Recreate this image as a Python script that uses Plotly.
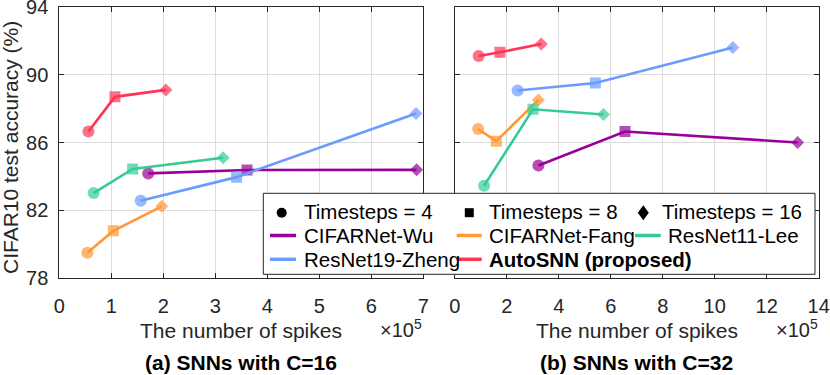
import plotly.graph_objects as go

W, H = 830, 375
FONT = "Liberation Sans, Arial, Helvetica, sans-serif"
INK = "#262626"

methods = ["CIFARNet-Wu", "CIFARNet-Fang", "ResNet11-Lee", "ResNet19-Zheng", "AutoSNN (proposed)"]
colors = ["#990099", "#FF9933", "#33CC99", "#6A9BFF", "#FF3352"]
timestep_labels = ["Timesteps = 4", "Timesteps = 8", "Timesteps = 16"]
symbols = ["circle", "square", "diamond"]

# C=16, spikes in units of 1e5
c16_x = {
    "CIFARNet-Wu": [1.71, 3.61, 6.87],
    "CIFARNet-Fang": [0.54, 1.04, 1.97],
    "ResNet11-Lee": [0.66, 1.41, 3.15],
    "ResNet19-Zheng": [1.565, 3.41, 6.86],
    "AutoSNN (proposed)": [0.56, 1.07, 2.05],
}
c16_y = {
    "CIFARNet-Wu": [84.18, 84.38, 84.39],
    "CIFARNet-Fang": [79.5, 80.8, 82.24],
    "ResNet11-Lee": [83.02, 84.44, 85.1],
    "ResNet19-Zheng": [82.57, 83.96, 87.71],
    "AutoSNN (proposed)": [86.65, 88.69, 89.1],
}
# C=32
c32_x = {
    "CIFARNet-Wu": [3.22, 6.55, 13.19],
    "CIFARNet-Fang": [0.9, 1.6, 3.22],
    "ResNet11-Lee": [1.13, 3.01, 5.72],
    "ResNet19-Zheng": [2.42, 5.41, 10.7],
    "AutoSNN (proposed)": [0.92, 1.74, 3.33],
}
c32_y = {
    "CIFARNet-Wu": [84.65, 86.65, 86.0],
    "CIFARNet-Fang": [86.79, 86.08, 88.51],
    "ResNet11-Lee": [83.45, 87.96, 87.65],
    "ResNet19-Zheng": [89.06, 89.51, 91.59],
    "AutoSNN (proposed)": [91.1, 91.32, 91.8],
}


def px(x):
    return x / W


def py(y):
    return 1 - y / H


fig = go.Figure()
for xs, ys, xa, ya in [(c16_x, c16_y, "x", "y"), (c32_x, c32_y, "x2", "y2")]:
    for m, c in zip(methods, colors):
        fig.add_trace(go.Scatter(
            x=xs[m], y=ys[m], xaxis=xa, yaxis=ya, mode="lines+markers",
            line=dict(color=c, width=2.6),
            marker=dict(symbol=symbols, size=[12, 11, 10], color=c, line=dict(width=0)),
            showlegend=False, hoverinfo="skip"))

ax_common = dict(showline=True, linecolor=INK, linewidth=1, mirror="ticks", ticks="inside",
                 ticklen=5, tickcolor=INK, showgrid=True, gridcolor="#dcdcdc", gridwidth=1,
                 zeroline=False, ticklabeloverflow="allow", automargin=False,
                 tickfont=dict(family=FONT, size=20, color=INK))

fig.update_layout(
    width=W, height=H, margin=dict(l=0, r=0, t=0, b=0),
    paper_bgcolor="white", plot_bgcolor="white",
    font=dict(family=FONT, color=INK),
    xaxis=dict(domain=[px(59.3), px(423.3)], range=[0, 7], dtick=1, anchor="y",
               ticklabelstandoff=10, **ax_common),
    yaxis=dict(domain=[py(278.3), py(6.7)], range=[78, 94], tick0=78, dtick=4, anchor="x",
               ticklabelstandoff=6, **ax_common),
    xaxis2=dict(domain=[px(454.7), px(818.7)], range=[0, 14], dtick=2, anchor="y2",
                ticklabelstandoff=10, **ax_common),
    yaxis2=dict(domain=[py(278.3), py(6.7)], range=[78, 94], tick0=78, dtick=4, anchor="x2",
                showticklabels=False, **ax_common),
)

ann = []
# axis titles and captions
ann.append(dict(text="CIFAR10 test accuracy (%)", x=px(10), y=py(148), textangle=-90,
                font=dict(size=21)))
for cx, cap in [(241.3, "(a) SNNs with C=16"), (636.7, "(b) SNNs with C=32")]:
    ann.append(dict(text="The number of spikes", x=px(cx), y=py(330), font=dict(size=21)))
    ann.append(dict(text="<b>" + cap + "</b>", x=px(cx), y=py(362.5),
                    font=dict(size=21, color="black")))
for rx in [424.5, 819.5]:
    ann.append(dict(text="×10<sup>5</sup>", x=px(rx), y=py(328), xanchor="right",
                    font=dict(size=20)))

# legend box
shapes = [dict(type="rect", xref="paper", yref="paper", x0=px(263.3), x1=px(815),
               y0=py(274.3), y1=py(193.3), fillcolor="white", line=dict(color=INK, width=1))]

# marker row
r1 = 211.7
mk = [(281.7, 301.7), (469.3, 486.7), (643.3, 660.0)]
for (mx, tx), sym, lab in zip(mk, symbols, timestep_labels):
    if sym == "circle":
        shapes.append(dict(type="circle", xref="paper", yref="paper", x0=px(mx - 5), x1=px(mx + 5),
                           y0=py(r1 + 6), y1=py(r1 - 4), fillcolor="black", line=dict(width=0)))
    elif sym == "square":
        shapes.append(dict(type="rect", xref="paper", yref="paper", x0=px(mx - 4.5), x1=px(mx + 4.5),
                           y0=py(r1 + 5.5), y1=py(r1 - 3.5), fillcolor="black", line=dict(width=0)))
    else:
        cy = r1 + 1
        path = "M {},{} L {},{} L {},{} L {},{} Z".format(
            px(mx), py(cy - 7.5), px(mx + 5.5), py(cy), px(mx), py(cy + 7.5), px(mx - 5.5), py(cy))
        shapes.append(dict(type="path", xref="paper", yref="paper", path=path,
                           fillcolor="black", line=dict(width=0)))
    ann.append(dict(text=lab, x=px(tx), y=py(r1), xanchor="left", font=dict(size=20.5, color="black")))

# line rows
cols = [(270, 296, 301.7), (456.7, 481.7, 486.7), (635, 660.7, 665.7)]
rows = [235.5, 259.3]
for i, (m, c) in enumerate(zip(methods, colors)):
    ry = rows[i // 3]
    x0, x1, tx = cols[i % 3]
    shapes.append(dict(type="line", xref="paper", yref="paper", x0=px(x0), x1=px(x1),
                       y0=py(ry), y1=py(ry), line=dict(color=c, width=3.5)))
    txt = "<b>" + m + "</b>" if m.startswith("AutoSNN") else m
    ann.append(dict(text=txt, x=px(tx), y=py(ry), xanchor="left", font=dict(size=20.5, color="black")))

for a in ann:
    a.setdefault("xref", "paper")
    a.setdefault("yref", "paper")
    a.setdefault("showarrow", False)
    a.setdefault("xanchor", "center")
    a.setdefault("yanchor", "middle")
fig.update_layout(annotations=ann, shapes=shapes)

# fixed-size figure: drop the page margin / scrollbars so it sits exactly in the window
page_css = ("document.documentElement.style.margin='0';document.documentElement.style.overflow='hidden';"
            "document.body.style.margin='0';document.body.style.overflow='hidden';")
fig.write_html("out.html", config={"displayModeBar": False, "responsive": False},
               post_script=page_css)
